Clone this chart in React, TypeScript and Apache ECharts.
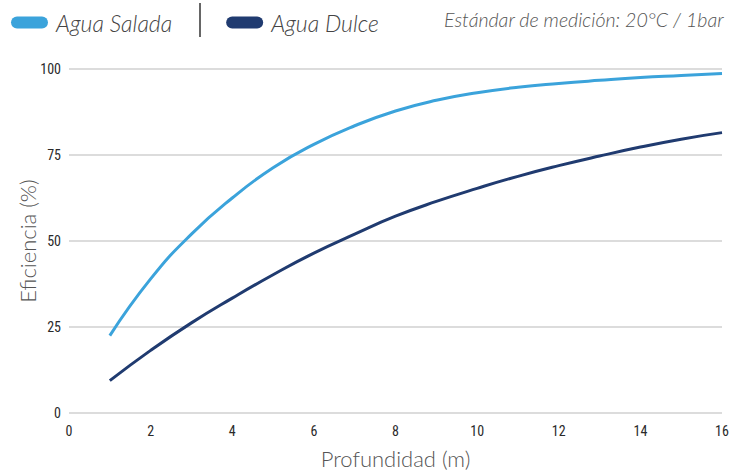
import React, { useEffect, useRef } from "react";
import * as echarts from "echarts";

const depths = [1, 2, 3, 4, 5, 6, 7, 8, 9, 10, 11, 12, 13, 14, 15, 16];
const saltWater = [22.5, 39, 52, 62.5, 71.3, 78.1, 83.5, 87.8, 90.9, 93.1, 94.7, 95.8, 96.7, 97.5, 98.1, 98.7];
const freshWater = [9.4, 18.2, 26.2, 33.4, 40.2, 46.5, 52, 57.2, 61.5, 65.3, 68.8, 71.9, 74.7, 77.3, 79.6, 81.5];
const seriesNames = ["Agua Salada", "Agua Dulce"];
const note = "Estándar de medición: 20°C / 1bar";
const xTitle = "Profundidad (m)";
const yTitle = "Eficiencia (%)";

const LIGHT = "#3ba3db";
const DARK = "#203b70";
const tickFont = "'Roboto Condensed', 'Liberation Sans Narrow', 'DejaVu Sans Condensed', Roboto, sans-serif";
const titleFont = "Lato, 'Open Sans', sans-serif";
const pill = "path://M6,0 H31 A6,6 0 0 1 31,12 H6 A6,6 0 0 1 6,0 Z";

export default function App() {
  const ref = useRef<HTMLDivElement>(null);
  useEffect(() => {
    if (!ref.current) return;
    const chart = echarts.init(ref.current, null, { renderer: "svg" });
    chart.setOption({
      animation: false,
      backgroundColor: "#ffffff",
      grid: { left: 69, right: 22, top: 69, bottom: 59, outerBoundsMode: "none" },
      legend: {
        left: 6,
        top: 6,
        itemWidth: 37,
        itemHeight: 12,
        itemGap: 54,
        icon: pill,
        textStyle: {
          fontFamily: titleFont,
          fontStyle: "italic",
          fontWeight: 300,
          fontSize: 23,
          color: "#444",
          padding: [0, 0, 0, 3],
        },
        data: seriesNames,
      },
      graphic: [
        { type: "line", shape: { x1: 200, y1: 3, x2: 200, y2: 37 }, style: { stroke: "#666", lineWidth: 2 } },
        {
          type: "text",
          right: 20,
          top: 9,
          style: {
            text: note,
            fontFamily: titleFont,
            fontStyle: "italic",
            fontWeight: 300,
            fontSize: 19.6,
            fill: "#555",
          },
        },
      ],
      xAxis: {
        type: "value",
        min: 0,
        max: 16,
        interval: 2,
        name: xTitle,
        nameLocation: "middle",
        nameGap: 34,
        nameMoveOverlap: false,
        nameTextStyle: { fontFamily: titleFont, fontWeight: 300, fontSize: 22, color: "#555" },
        axisLine: { show: false },
        axisTick: { show: false },
        splitLine: { show: false },
        axisLabel: { margin: 11, fontFamily: tickFont, fontSize: 14, color: "#2a2a2a" },
      },
      yAxis: {
        type: "value",
        min: 0,
        max: 100,
        interval: 25,
        name: yTitle,
        nameLocation: "middle",
        nameGap: 31,
        nameMoveOverlap: false,
        nameRotate: 90,
        nameTextStyle: { fontFamily: titleFont, fontWeight: 300, fontSize: 22, color: "#555" },
        axisLine: { show: false },
        axisTick: { show: false },
        splitLine: { show: true, lineStyle: { color: "#dcdcdc", width: 2 } },
        axisLabel: { margin: 8, fontFamily: tickFont, fontSize: 14, color: "#2a2a2a" },
      },
      series: [
        {
          name: seriesNames[0],
          type: "line",
          smooth: true,
          showSymbol: false,
          color: LIGHT,
          lineStyle: { width: 3, color: LIGHT },
          data: depths.map((d, i) => [d, saltWater[i]]),
        },
        {
          name: seriesNames[1],
          type: "line",
          smooth: true,
          showSymbol: false,
          color: DARK,
          lineStyle: { width: 3, color: DARK },
          data: depths.map((d, i) => [d, freshWater[i]]),
        },
      ],
    });
    return () => chart.dispose();
  }, []);
  return <div ref={ref} style={{ width: 744, height: 472, position: "absolute", left: 0, top: 0 }} />;
}
